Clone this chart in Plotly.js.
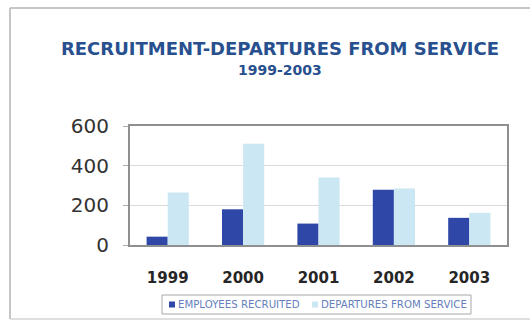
<!DOCTYPE html>
<html>
<head>
<meta charset="utf-8">
<script src="https://cdn.plot.ly/plotly-3.0.1.min.js"></script>
<style>
html,body{margin:0;padding:0;background:#fff;overflow:hidden;}
#chart{width:530px;height:322px;}
</style>
</head>
<body>
<div id="chart"></div>
<script>
var years = ['1999', '2000', '2001', '2002', '2003'];
var employeesRecruited = [42, 180, 108, 278, 137];
var departuresFromService = [265, 510, 340, 285, 162];
var seriesNames = ['EMPLOYEES RECRUITED', 'DEPARTURES FROM SERVICE'];
var yTicks = [0, 200, 400, 600];
var titleLine1 = 'RECRUITMENT-DEPARTURES FROM SERVICE';
var titleLine2 = '1999-2003';

var darkBlue = '#2f47a6';
var lightBlue = '#cbe7f3';

// plot area in pixels
var L = 130, R = 23, T = 126, B = 77, W = 530, H = 322;
var pw = W - L - R, ph = H - T - B;
function px(x) { return (x - L) / pw; }
function py(y) { return (H - B - y) / ph; }

var traces = [
  {type: 'bar', x: years, y: employeesRecruited, name: seriesNames[0],
   marker: {color: darkBlue}},
  {type: 'bar', x: years, y: departuresFromService, name: seriesNames[1],
   marker: {color: lightBlue}}
];

var legendFont = {family: 'DejaVu Sans', size: 10.2, color: '#6580bd'};

var layout = {
  width: W, height: H,
  margin: {l: L, r: R, t: T, b: B},
  paper_bgcolor: '#ffffff',
  plot_bgcolor: '#ffffff',
  barmode: 'group',
  bargap: 0.44,
  bargroupgap: 0,
  showlegend: false,
  title: {
    text: titleLine1,
    font: {family: 'DejaVu Sans', size: 18, color: '#28508f', weight: 'bold'},
    x: 280 / W, xanchor: 'center', xref: 'container',
    y: 1 - 49 / H, yanchor: 'middle', yref: 'container'
  },
  xaxis: {
    type: 'category',
    showgrid: false,
    ticks: '',
    ticklabelstandoff: 18,
    tickfont: {family: 'DejaVu Sans', size: 15, color: '#262626', weight: 'bold'},
    showline: true, linecolor: '#8f8f8f', linewidth: 2, mirror: true,
    fixedrange: true
  },
  yaxis: {
    range: [0, 600],
    tickvals: yTicks,
    ticktext: yTicks.map(String),
    ticks: 'outside', ticklen: 5, tickcolor: '#b0b0b0',
    ticklabelstandoff: 10,
    tickfont: {family: 'DejaVu Sans', size: 20, color: '#333333'},
    showgrid: true, gridcolor: '#dadada', gridwidth: 1,
    zeroline: false,
    showline: true, linecolor: '#8f8f8f', linewidth: 2, mirror: true,
    fixedrange: true
  },
  annotations: [
    {xref: 'paper', yref: 'paper', x: px(280), y: py(70), xanchor: 'center', yanchor: 'middle',
     text: titleLine2, showarrow: false,
     font: {family: 'DejaVu Sans', size: 14, color: '#28508f', weight: 'bold'}},
    {xref: 'paper', yref: 'paper', x: px(176), y: py(304.5), xanchor: 'left', yanchor: 'middle',
     text: seriesNames[0], showarrow: false, font: legendFont},
    {xref: 'paper', yref: 'paper', x: px(319), y: py(304.5), xanchor: 'left', yanchor: 'middle',
     text: seriesNames[1], showarrow: false, font: legendFont}
  ],
  shapes: [
    // outer frame (top, left, bottom)
    {type: 'line', xref: 'paper', yref: 'paper', x0: px(10), x1: px(530), y0: py(8), y1: py(8),
     line: {color: '#c6c6c6', width: 2}, layer: 'below'},
    {type: 'line', xref: 'paper', yref: 'paper', x0: px(10), x1: px(10), y0: py(8), y1: py(319),
     line: {color: '#c6c6c6', width: 2}, layer: 'below'},
    {type: 'line', xref: 'paper', yref: 'paper', x0: px(10), x1: px(530), y0: py(319), y1: py(319),
     line: {color: '#d4d4d4', width: 1.5}, layer: 'below'},
    // legend box
    {type: 'rect', xref: 'paper', yref: 'paper', x0: px(162), x1: px(471), y0: py(295), y1: py(314),
     line: {color: '#a8a8a8', width: 1}, fillcolor: '#ffffff', layer: 'below'},
    // legend swatches
    {type: 'rect', xref: 'paper', yref: 'paper', x0: px(169), x1: px(175), y0: py(301.5), y1: py(307.5),
     line: {width: 0}, fillcolor: darkBlue},
    {type: 'rect', xref: 'paper', yref: 'paper', x0: px(312), x1: px(318), y0: py(301.5), y1: py(307.5),
     line: {width: 0}, fillcolor: lightBlue}
  ]
};

Plotly.newPlot('chart', traces, layout, {displayModeBar: false, staticPlot: true});
</script>
</body>
</html>
